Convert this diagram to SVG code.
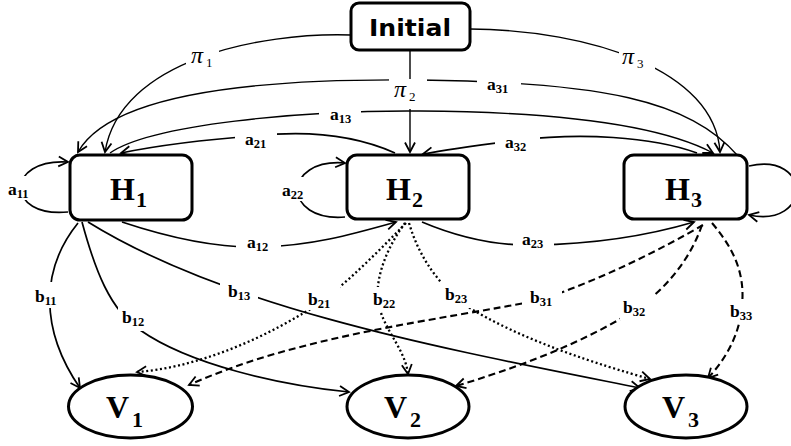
<svg xmlns="http://www.w3.org/2000/svg" width="791" height="446" viewBox="0 0 791 446">
<style>
.box{fill:#fff;stroke:#000;stroke-width:3}
.e{fill:none;stroke:#000;stroke-width:1.7}
.thin{stroke-width:1.4}
.dot{stroke-width:2.3;stroke-dasharray:2 2.6}
.dash{stroke-width:2.1;stroke-dasharray:7 4}
.big{font-family:"Liberation Serif",serif;font-weight:bold;font-size:32px}
.bsub{font-size:22px}
.lab{font-family:"Liberation Serif",serif;font-weight:bold;font-size:17.5px}
.lsub{font-size:12.5px}
.pi{font-family:"Liberation Serif",serif;font-style:italic;font-size:24px}
.psub{font-style:normal;font-size:13px}
.bg{fill:#fff}
</style>
<defs>
<marker id="arr" markerUnits="userSpaceOnUse" markerWidth="13" markerHeight="13" viewBox="0 0 13 13" refX="11" refY="6.5" orient="auto">
<path d="M1.5,1.5 L11,6.5 L1.5,11.5" fill="none" stroke="#000" stroke-width="1.8" stroke-dasharray="none"/>
</marker>
</defs>
<rect width="791" height="446" fill="#fff"/>
<g id="connectors">
<path id="pi1" class="e thin" d="M351,35 C260,32 120,60 105,152" marker-end="url(#arr)"/>
<path id="pi3" class="e thin" d="M470,29 C590,30 715,70 720,152" marker-end="url(#arr)"/>
<path id="pi2" class="e thin" d="M410,50 L410,152" marker-end="url(#arr)"/>
<path id="a31" class="e thin" d="M738,156 C690,100 600,82 420,80 C250,78 110,95 78,152" marker-end="url(#arr)"/>
<path id="a13" class="e thin" d="M110,153 C150,125 300,110 420,111 C560,112 660,125 713,153" marker-end="url(#arr)"/>
<path id="a21" class="e" d="M395,153 C350,133 300,131 255,136 C200,140 160,145 121,153" marker-end="url(#arr)"/>
<path id="a32" class="e" d="M697,153 C650,136 580,133 518,140 C480,145 450,149 423,154" marker-end="url(#arr)"/>
<path id="a12" class="e" d="M122,222 C170,238 220,248 260,247 C310,246 350,235 396,222" marker-end="url(#arr)"/>
<path id="a23" class="e" d="M422,222 C460,238 500,246 535,245 C600,244 650,235 694,222" marker-end="url(#arr)"/>
<path id="a11" class="e" d="M68,212 C5,218 5,158 68,162" marker-end="url(#arr)"/>
<path id="a22" class="e" d="M345,217 C282,222 282,158 345,163" marker-end="url(#arr)"/>
<path id="a33" class="e" d="M749,166 C812,152 812,228 749,215" marker-end="url(#arr)"/>
<path id="b11" class="e" d="M78,223 C40,270 40,330 80,388" marker-end="url(#arr)"/>
<path id="b12" class="e" d="M82,222 C95,270 110,310 140,330 C190,365 280,385 349,392" marker-end="url(#arr)"/>
<path id="b13" class="e" d="M88,222 C230,310 450,350 640,388" marker-end="url(#arr)"/>
<path id="b21" class="e dot" d="M406,223 C370,260 330,300 300,315 C250,345 190,368 137,372" marker-end="url(#arr)"/>
<path id="b22" class="e dot" d="M405,223 C385,250 372,285 380,310 C388,335 405,350 408,374" marker-end="url(#arr)"/>
<path id="b23" class="e dot" d="M409,223 C420,260 440,285 465,305 C520,340 600,365 650,379" marker-end="url(#arr)"/>
<path id="b31" class="e dash" d="M703,225 C660,250 600,280 540,300 C440,320 300,335 189,385" marker-end="url(#arr)"/>
<path id="b32" class="e dash" d="M702,225 C690,260 665,290 635,310 C580,345 510,370 456,386" marker-end="url(#arr)"/>
<path id="b33" class="e dash" d="M712,223 C735,250 745,275 742,305 C740,335 725,360 708,378" marker-end="url(#arr)"/>
</g>
<g id="labels">
<rect class="bg" x="186" y="47" width="33" height="22"/>
<text class="pi" x="191" y="63">π<tspan class="psub" dx="3" dy="4">1</tspan></text>
<rect class="bg" x="389" y="79" width="38" height="30"/>
<text class="pi" x="394" y="97">π<tspan class="psub" dx="3" dy="4">2</tspan></text>
<rect class="bg" x="619" y="48" width="36" height="22"/>
<text class="pi" x="622" y="64">π<tspan class="psub" dx="3" dy="4">3</tspan></text>
<rect class="bg" x="477" y="74" width="44" height="22"/>
<text class="lab" x="487" y="90">a<tspan class="lsub" dy="3">31</tspan></text>
<rect class="bg" x="319" y="104" width="42" height="22"/>
<text class="lab" x="330" y="120">a<tspan class="lsub" dy="3">13</tspan></text>
<rect class="bg" x="235" y="129" width="42" height="22"/>
<text class="lab" x="245" y="145">a<tspan class="lsub" dy="3">21</tspan></text>
<rect class="bg" x="495" y="132" width="45" height="22"/>
<text class="lab" x="505" y="148">a<tspan class="lsub" dy="3">32</tspan></text>
<rect class="bg" x="4" y="176" width="32" height="24"/>
<text class="lab" x="8" y="195">a<tspan class="lsub" dy="3">11</tspan></text>
<rect class="bg" x="280" y="177" width="30" height="24"/>
<text class="lab" x="282" y="196">a<tspan class="lsub" dy="3">22</tspan></text>
<rect class="bg" x="236" y="232" width="45" height="24"/>
<text class="lab" x="247" y="248">a<tspan class="lsub" dy="3">12</tspan></text>
<rect class="bg" x="513" y="230" width="41" height="24"/>
<text class="lab" x="522" y="245">a<tspan class="lsub" dy="3">23</tspan></text>
<rect class="bg" x="33" y="282" width="30" height="26"/>
<text class="lab" x="35" y="302">b<tspan class="lsub" dy="3">11</tspan></text>
<rect class="bg" x="118" y="305" width="32" height="26"/>
<text class="lab" x="122" y="323">b<tspan class="lsub" dy="3">12</tspan></text>
<rect class="bg" x="220" y="282" width="38" height="22"/>
<text class="lab" x="228" y="297">b<tspan class="lsub" dy="3">13</tspan></text>
<rect class="bg" x="305" y="285" width="35" height="25"/>
<text class="lab" x="308" y="305">b<tspan class="lsub" dy="3">21</tspan></text>
<rect class="bg" x="370" y="287" width="32" height="25"/>
<text class="lab" x="373" y="305">b<tspan class="lsub" dy="3">22</tspan></text>
<rect class="bg" x="440" y="282" width="32" height="26"/>
<text class="lab" x="445" y="300">b<tspan class="lsub" dy="3">23</tspan></text>
<rect class="bg" x="522" y="286" width="40" height="22"/>
<text class="lab" x="530" y="303">b<tspan class="lsub" dy="3">31</tspan></text>
<rect class="bg" x="620" y="294" width="34" height="26"/>
<text class="lab" x="623" y="313">b<tspan class="lsub" dy="3">32</tspan></text>
<rect class="bg" x="727" y="299" width="32" height="24"/>
<text class="lab" x="730" y="317">b<tspan class="lsub" dy="3">33</tspan></text>
</g>
<g id="Initial">
<rect class="box" x="351" y="3" width="119" height="47" rx="8"/>
<text x="369" y="36" font-family="DejaVu Sans, sans-serif" font-weight="bold" font-size="23" textLength="82" lengthAdjust="spacingAndGlyphs">Initial</text>
</g>
<g id="H1">
<rect class="box" x="70" y="155" width="122" height="65" rx="10"/>
<text class="big" x="110" y="200">H<tspan class="bsub" dx="1" dy="7">1</tspan></text>
</g>
<g id="H2">
<rect class="box" x="347" y="155" width="122" height="64" rx="10"/>
<text class="big" x="386" y="200">H<tspan class="bsub" dx="1" dy="7">2</tspan></text>
</g>
<g id="H3">
<rect class="box" x="624" y="155" width="123" height="64" rx="10"/>
<text class="big" x="665" y="200">H<tspan class="bsub" dx="1" dy="7">3</tspan></text>
</g>
<g id="V1">
<ellipse class="box" cx="130.5" cy="406.5" rx="62" ry="31.5"/>
<text class="big" x="106" y="418" font-size="31">V<tspan class="bsub" dx="3" dy="9">1</tspan></text>
</g>
<g id="V2">
<ellipse class="box" cx="408" cy="406.5" rx="61" ry="31.5"/>
<text class="big" x="384" y="418" font-size="31">V<tspan class="bsub" dx="3" dy="9">2</tspan></text>
</g>
<g id="V3">
<ellipse class="box" cx="686" cy="406.5" rx="61" ry="31.5"/>
<text class="big" x="662" y="418" font-size="31">V<tspan class="bsub" dx="3" dy="9">3</tspan></text>
</g>
</svg>
